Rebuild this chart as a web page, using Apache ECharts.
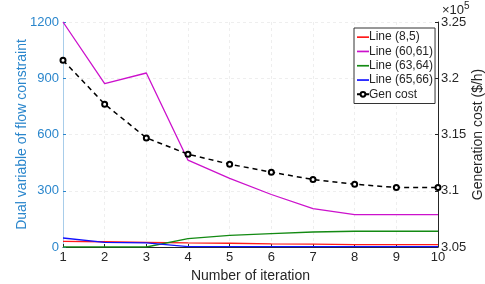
<!DOCTYPE html>
<html><head><meta charset="utf-8">
<script src="https://cdn.jsdelivr.net/npm/echarts@6/dist/echarts.min.js"></script>
<style>html,body{margin:0;padding:0;background:#fff}#c{width:485px;height:284px}</style>
</head><body><div id="c"></div>
<script>
const iterations = [1,2,3,4,5,6,7,8,9,10];
const line_8_5 = [30,28,25,22,20,17,15,13,13,13];
const line_60_61 = [1200,871,928,463,366,280,205,173,173,173];
const line_63_64 = [0,0,0,45,62,71,80,84,84,84];
const line_65_66 = [48,25,22,2,2,2,2,2,2,2];
const genCost = [321600,317700,314700,313250,312360,311650,311000,310580,310290,310290];
const leftTicks = [0,300,600,900,1200];
const rightTicks = [305000,310000,315000,320000,325000];

const pair = arr => arr.map((v,i)=>[iterations[i], v]);
const chart = echarts.init(document.getElementById('c'));
const F = 'Liberation Sans, Arial, sans-serif';
const leftBlue = '#2a86cc';
const lineIcon = 'path://M0,0 L20,0 L20,2.8 L0,2.8 Z';
chart.setOption({
  animation:false,
  textStyle:{fontFamily:F},
  grid:{left:63,right:47,top:22,bottom:37,outerBoundsMode:'none',containLabel:false},
  xAxis:{type:'value',min:1,max:10,interval:1,
    name:'Number of iteration',nameLocation:'middle',nameGap:22,nameMoveOverlap:false,
    nameTextStyle:{fontSize:14,color:'#262626',fontFamily:F},
    axisLine:{show:true,onZero:false,lineStyle:{color:'#262626'}},
    axisTick:{show:true,inside:true,length:3,lineStyle:{color:'#262626'}},
    axisLabel:{fontSize:13,color:'#262626',margin:4},
    splitLine:{show:true,lineStyle:{color:'#eeeeee',type:[3,3]}}},
  yAxis:[
    {type:'value',min:0,max:1200,interval:300,position:'left',
     name:'Dual variable of flow constraint',nameLocation:'middle',nameGap:34,nameMoveOverlap:false,
     nameTextStyle:{fontSize:14,color:leftBlue,fontFamily:F},
     axisLine:{show:true,lineStyle:{color:'#a8cdea'}},
     axisTick:{show:true,inside:true,length:3,lineStyle:{color:leftBlue}},
     axisLabel:{fontSize:13,color:leftBlue,margin:4,formatter:v=>String(v)},
     splitLine:{show:true,lineStyle:{color:'#eeeeee',type:[3,3]}}},
    {type:'value',min:305000,max:325000,interval:5000,position:'right',
     name:'Generation cost ($/h)',nameLocation:'middle',nameGap:33,nameRotate:90,nameMoveOverlap:false,
     nameTextStyle:{fontSize:14,color:'#262626',fontFamily:F},
     axisLine:{show:true,lineStyle:{color:'#262626'}},
     axisTick:{show:true,inside:true,length:3,lineStyle:{color:'#262626'}},
     axisLabel:{fontSize:13,color:'#262626',margin:3,
       formatter:v=>String(parseFloat((v/1e5).toFixed(2)))},
     splitLine:{show:false}}
  ],
  legend:{orient:'vertical',left:354,top:28,padding:[2,2,2,2],itemGap:0,
    itemWidth:12,itemHeight:6,backgroundColor:'#fff',borderColor:'#333',borderWidth:1,
    textStyle:{fontSize:12,lineHeight:14.3,color:'#262626',padding:[0,0,0,-5]},
    data:[{name:'Line (8,5)',icon:lineIcon},{name:'Line (60,61)',icon:lineIcon},
      {name:'Line (63,64)',icon:lineIcon},{name:'Line (65,66)',icon:lineIcon},'Gen cost']},
  graphic:[{type:'text',left:442,top:1,style:{
    text:'{a|\u00d710}{b|5}',rich:{a:{fontSize:13,fill:'#262626',fontFamily:F},
    b:{fontSize:10,fill:'#262626',fontFamily:F,verticalAlign:'top',padding:[0,0,8,0]}}}}],
  series:[
    {name:'Line (8,5)',type:'line',data:pair(line_8_5),showSymbol:false,symbol:'none',lineStyle:{color:'#ff1a1a',width:1.3},itemStyle:{color:'#ff1a1a'}},
    {name:'Line (60,61)',type:'line',data:pair(line_60_61),showSymbol:false,symbol:'none',lineStyle:{color:'#cc11cc',width:1.3},itemStyle:{color:'#cc11cc'}},
    {name:'Line (63,64)',type:'line',data:pair(line_63_64),showSymbol:false,symbol:'none',lineStyle:{color:'#138a13',width:1.3},itemStyle:{color:'#138a13'}},
    {name:'Line (65,66)',type:'line',data:pair(line_65_66),showSymbol:false,symbol:'none',lineStyle:{color:'#1111ff',width:1.3},itemStyle:{color:'#1111ff'}},
    {name:'Gen cost',type:'line',yAxisIndex:1,data:pair(genCost),symbol:'emptyCircle',symbolSize:5,
     lineStyle:{color:'#000',width:1.5,type:[5,4]},itemStyle:{color:'#000',borderColor:'#000',borderWidth:1.5}}
  ]
});
</script></body></html>
